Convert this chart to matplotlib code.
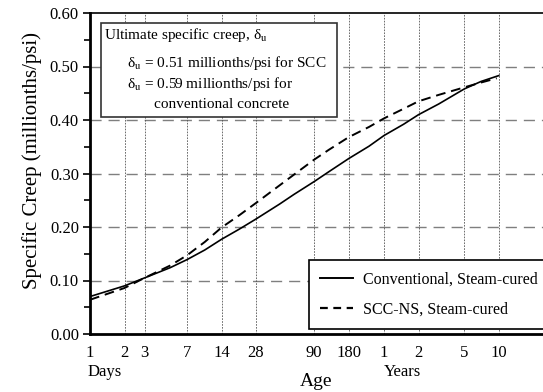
import matplotlib
matplotlib.use('Agg')
import matplotlib.pyplot as plt
from matplotlib.lines import Line2D

plt.rcParams['font.family'] = ['Liberation Serif', 'DejaVu Serif']
plt.rcParams['mathtext.fontset'] = 'stix'

# age in days
dias_conv = [1, 2, 3, 5, 7, 10, 14, 20, 28, 45, 60, 90, 120, 180, 270, 365, 540, 730, 1095, 1825, 2555, 3650]
creep_conv = [0.070, 0.090, 0.105, 0.124, 0.139, 0.157, 0.177, 0.196, 0.215, 0.243, 0.261, 0.285,
              0.303, 0.328, 0.351, 0.371, 0.392, 0.410, 0.430, 0.458, 0.472, 0.483]
dias_scc = [1, 2, 3, 5, 7, 10, 14, 20, 28, 45, 60, 90, 120, 180, 270, 365, 540, 730, 1095, 1825, 2555, 3500]
creep_scc = [0.064, 0.086, 0.105, 0.128, 0.147, 0.172, 0.199, 0.222, 0.245, 0.278, 0.298, 0.326,
             0.344, 0.368, 0.387, 0.403, 0.421, 0.435, 0.447, 0.461, 0.470, 0.478]

xticks = [1, 2, 3, 7, 14, 28, 90, 180, 365, 730, 1825, 3650]
xticklabels = ['1', '2', '3', '7', '14', '28', '90', '180', '1', '2', '5', '10']
yticks = [0.0, 0.1, 0.2, 0.3, 0.4, 0.5, 0.6]

fig = plt.figure(figsize=(5.43, 3.92), dpi=100)
ax = fig.add_axes([90/543, 1-334/392, 459/543, 321/392])

ax.set_xscale('log')
ax.set_xlim(1, 10000)
ax.set_ylim(0, 0.6)

# grade
for y in yticks[1:-1]:
    ax.axhline(y, color='#7f7f7f', lw=1.0, dashes=(8, 5), zorder=1)
for x in xticks[1:]:
    ax.axvline(x, color='#555555', lw=0.6, dashes=(2, 1.5), zorder=1)

ax.plot(dias_conv, creep_conv, color='black', lw=1.2, zorder=3)
ax.plot(dias_scc, creep_scc, color='black', lw=1.4, dashes=(5, 3), zorder=3)

ax.set_xticks(xticks)
ax.set_xticklabels(xticklabels)
ax.minorticks_off()
ax.tick_params(axis='x', length=0, pad=8, labelsize=12)
ax.set_yticks(yticks)
ax.set_yticklabels(['%.2f' % v for v in yticks])
ax.set_yticks([0.05, 0.15, 0.25, 0.35, 0.45, 0.55], minor=True)
ax.tick_params(axis='y', which='major', length=5, width=1.2, labelsize=12, pad=3)
ax.tick_params(axis='y', which='minor', length=4, width=1.2)

ax.spines['left'].set_linewidth(2)
ax.spines['bottom'].set_linewidth(2)
ax.spines['top'].set_linewidth(1.2)
ax.spines['right'].set_visible(False)

ax.set_ylabel('Specific Creep (millionths/psi)', fontsize=15)
ax.yaxis.set_label_coords(-0.105, 0.542)
fig.text(88/543, 1-372/392, 'Days', fontsize=12, va='center', ha='left')
fig.text(384/543, 1-372/392, 'Years', fontsize=12, va='center', ha='left')
fig.text(316/543, 1-382/392, 'Age', fontsize=14, va='center', ha='center')

# caixa de texto
caixa = plt.Rectangle((100.5/543, 1-116.5/392), 236/543, 94/392, transform=fig.transFigure,
                      fill=True, facecolor='white', edgecolor='#333333', lw=1.2, zorder=5)
fig.patches.append(caixa)
fs = 11
fig.text(104/543, 1-35/392, 'Ultimate specific creep, δ$_{\\rm u}$', fontsize=fs, va='center', zorder=6)
fig.text(127/543, 1-63/392, 'δ$_{\\rm u}$ = 0.51 millionths/psi for SCC', fontsize=fs, va='center', zorder=6)
fig.text(127/543, 1-84/392, 'δ$_{\\rm u}$ = 0.59 millionths/psi for', fontsize=fs, va='center', zorder=6)
fig.text(154/543, 1-105/392, 'conventional concrete', fontsize=fs, va='center', zorder=6)

# legenda
handles = [Line2D([], [], color='black', lw=1.4),
           Line2D([], [], color='black', lw=1.6, dashes=(3.5, 2.5))]
leg = fig.legend(handles, ['Conventional, Steam-cured', 'SCC-NS, Steam-cured'],
                 loc='upper left', bbox_to_anchor=(309/543, 1-260/392), fontsize=11.5,
                 frameon=True, fancybox=False, edgecolor='black', framealpha=1,
                 handlelength=2.05, handletextpad=0.65, borderpad=0.7, labelspacing=0.9,
                 borderaxespad=0)
leg.get_frame().set_linewidth(1.2)

fig.savefig('out.png', dpi=100)
